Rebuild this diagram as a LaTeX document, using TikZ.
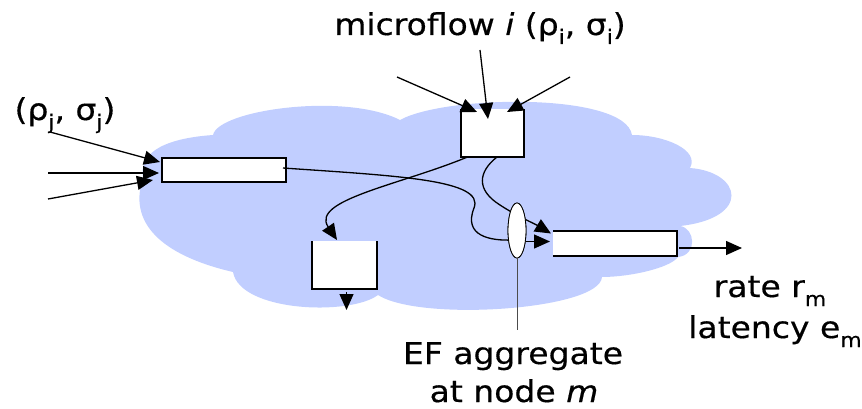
\documentclass[tikz,border=0pt]{standalone}
\usepackage{fontspec}
\setmainfont[FakeStretch=1.1,FakeBold=0.5]{DejaVu Sans}
\usetikzlibrary{arrows.meta,shapes.geometric,calc}
\definecolor{cloudblue}{RGB}{193,206,255}
\newcommand\dn[1]{\raisebox{-0.3em}{\fontsize{20}{20}\selectfont #1}}
\begin{document}
\begin{tikzpicture}[x=1pt,y=-1pt,
  conn/.style={line width=1.3pt, -{Triangle[length=16pt,width=14pt]}},
  plainline/.style={line width=1.3pt},
  qfill/.style={fill=white, draw=none, inner sep=0pt, outer sep=0pt},
  qedge/.style={line width=1.3pt, line join=miter},
  lbl/.style={font=\fontsize{30}{40}\selectfont, inner sep=0pt, anchor=base}]
\useasboundingbox (0,0) rectangle (862,409);
% cloud
\fill[cloudblue] (143,178) .. controls (138,150) and (170,138) .. (213,135)
 .. controls (218,110) and (345,92) .. (400,120)
 .. controls (445,95) and (625,92) .. (632,135)
 .. controls (665,135) and (700,150) .. (690,168)
 .. controls (742,172) and (752,218) .. (680,226)
 .. controls (695,228) and (698,255) .. (678,257)
 .. controls (670,268) and (630,277) .. (602,277)
 .. controls (600,310) and (420,322) .. (378,295)
 .. controls (350,316) and (240,312) .. (233,272)
 .. controls (160,255) and (128,222) .. (143,178) -- cycle;
% queues
\node[qfill, minimum width=124, minimum height=24] (bj) at (224,170) {};
\node[qfill, minimum width=63, minimum height=48] (bi) at (492.5,133) {};
\node[qfill, minimum width=65, minimum height=48] (bb) at (344.5,265) {};
\node[qfill, minimum width=124, minimum height=25] (bm) at (615,243.5) {};
\draw[qedge] (bj.north west) rectangle (bj.south east);
\draw[qedge] (bi.north west) -- (bi.south west) -- (bi.south east) -- (bi.north east);
\draw[qedge] (bb.north west) -- (bb.south west) -- (bb.south east) -- (bb.north east);
\draw[qedge] (bm.south west) -- (bm.south east) -- (bm.north east) -- (bm.north west);
% free ends
\coordinate (sj1) at (50,132);
\coordinate (sj2) at (48,173);
\coordinate (sj3) at (48,199);
\coordinate (si1) at (397,77);
\coordinate (si2) at (480,50);
\coordinate (si3) at (570,77);
\coordinate (outm) at (742,248);
\coordinate (outb) at (346.5,310);
\coordinate (efend) at (517,330);
% inputs to j
\draw[conn] (sj1) -- ($(bj.west)+(-2,-8)$);
\draw[conn] (sj2) -- ($(bj.west)+(-3,3)$);
\draw[conn] (sj3) -- ($(bj.west)+(-9,10)$);
% inputs to i
\draw[conn] (si1) -- ($(bi.north)+(-15.5,3)$);
\draw[conn] (si2) -- ($(bi.north)+(-4.5,10)$);
\draw[conn] (si3) -- ($(bi.north)+(14.5,3)$);
% ellipse
\node[ellipse, fill=white, draw=black, line width=0.8pt, minimum width=18, minimum height=55, inner sep=0pt] (el) at (517,230.5) {};
% flows
\draw[conn] ($(bi.south)+(-25,0)$) .. controls (400,185) and (310,200) .. ($(bb.north)+(-7.5,-1)$);
\draw[conn] ($(bi.south)+(4.5,0)$) .. controls (478,172) and (476,190) .. (500,205)
  .. controls (515,215) and (535,224) .. ($(bm.west)+(-2,-10)$);
\draw[plainline] ($(bj.east)+(-3,-2)$) .. controls (400,176) and (485,180) .. (474,208)
  .. controls (463,236) and (490,241) .. ($(el.center)+(-4,9.5)$);
\draw[conn] ($(el.center)+(0,11)$) -- ($(bm.west)+(-3,-2)$);
\node[ellipse, fill=white, draw=black, line width=0.8pt, minimum width=18, minimum height=55, inner sep=0pt] at (el.center) {};
\draw[conn] ($(bm.east)+(2,4.5)$) -- (outm);
\draw[conn] ($(bb.south)+(2,3)$) -- (outb);
\draw[line width=1pt, black!70] (el.south) -- (efend);
% labels
\node[lbl] (lj) at (65,120) {(ρ\dn{j}, σ\dn{j})};
\node[lbl] (li) at (480,35) {microflow \textit{i} (ρ\dn{i}, σ\dn{i})};
\node[lbl] (lr) at (770,297) {rate r\dn{m}};
\node[lbl] (ll) at (775,338) {latency e\dn{m}};
\node[lbl] (le1) at (513,364) {EF aggregate};
\node[lbl] (le2) at (514,402) {at node \textit{m}};
\end{tikzpicture}
\end{document}
